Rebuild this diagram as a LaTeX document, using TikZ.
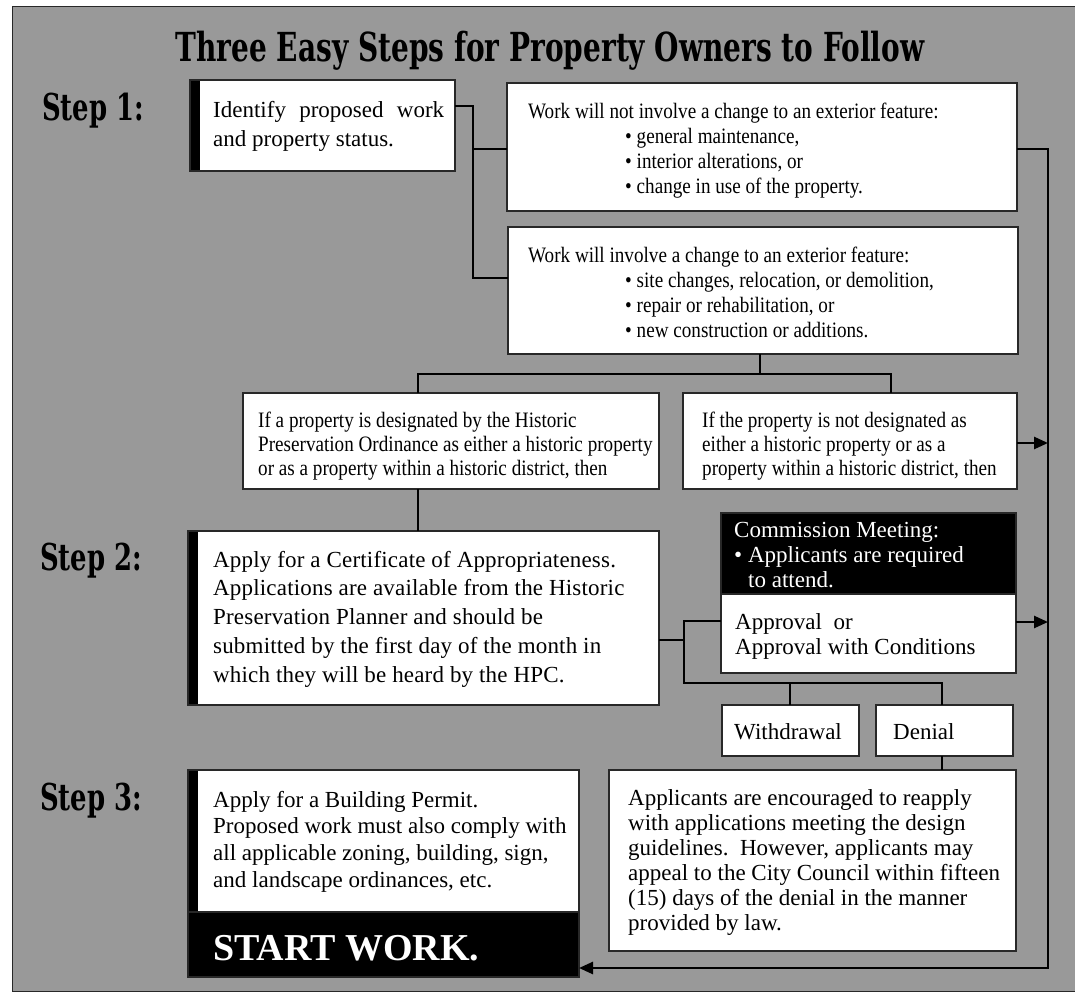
\documentclass[tikz,border=0pt]{standalone}
\usepackage{fontspec}
\setmainfont{Liberation Serif}
\newfontfamily\narrowfont{Liberation Serif}[FakeStretch=0.87]
\newfontfamily\headfont{DejaVu Serif}[FakeStretch=0.7]
\usetikzlibrary{arrows.meta,positioning}
\definecolor{panelgray}{RGB}{153,153,153}
\definecolor{boxline}{RGB}{40,40,40}
\newcommand{\bodyfont}{\fontsize{23}{29}\selectfont}
\newcommand{\smallfont}{\narrowfont\fontsize{22}{25}\selectfont}

\begin{document}
\begin{tikzpicture}[x=1pt,y=-1pt]
	\tikzstyle{box}=[draw=boxline,line width=1.2pt,fill=white,anchor=north west,inner sep=0pt,outer sep=0pt]
	\tikzstyle{stepbox}=[box,path picture={\fill[black] (path picture bounding box.north west) rectangle ([xshift=10pt]path picture bounding box.south west);}]
	\tikzstyle{txt}=[anchor=north west,inner sep=0pt,align=left]
	\tikzstyle{link}=[line width=2.6pt]
	\tikzstyle{arr}=[line width=2.6pt,-{Triangle[length=14pt,width=12pt]}]
	\tikzstyle{steplabel}=[anchor=base west,inner sep=0pt,font={\headfont\bfseries\fontsize{37}{40}\selectfont}]

	\useasboundingbox (0,0) rectangle (1075,998);
	\fill[white] (0,0) rectangle (1075,998);
	\draw[draw=boxline,line width=1pt,fill=panelgray] (12,7) rectangle (1090,991);

	\node[anchor=base,inner sep=0pt,font={\headfont\bfseries\fontsize{40}{44}\selectfont}] (title) at (550,62) {Three Easy Steps for Property Owners to Follow};
	\node[steplabel] (step1) at (42,120) {Step 1:};
	\node[steplabel] (step2) at (40,570) {Step 2:};
	\node[steplabel] (step3) at (40,810) {Step 3:};

	\begin{scope}
	\node[stepbox,minimum width=265pt,minimum height=91pt] (s1) at (190,80) {};
	\node[box,minimum width=510pt,minimum height=128pt] (wno) at (507,83) {};
	\node[box,minimum width=510pt,minimum height=127pt] (wyes) at (508,227) {};
	\node[box,minimum width=416pt,minimum height=96pt] (hist) at (243,393) {};
	\node[box,minimum width=334pt,minimum height=96pt] (nohist) at (683,393) {};
	\node[stepbox,minimum width=471pt,minimum height=174pt] (s2) at (188,531) {};
	\node[box,fill=black,minimum width=295pt,minimum height=81pt] (comm) at (721,513) {};
	\node[box,minimum width=295pt,minimum height=79pt] (appr) at (721,594) {};
	\node[box,minimum width=137pt,minimum height=51pt] (withd) at (722,705) {};
	\node[box,minimum width=137pt,minimum height=51pt] (denial) at (876,705) {};
	\node[stepbox,minimum width=391pt,minimum height=142pt] (s3) at (188,770) {};
	\node[box,fill=black,minimum width=391pt,minimum height=65pt] (startw) at (188,912) {};
	\node[box,minimum width=407pt,minimum height=181pt] (appl) at (609,770) {};
	\end{scope}

	\node[txt,text width=231pt,align=justify,font=\bodyfont] (s1-t) at ([shift={(23,16.7)}]s1.north west) {\strut Identify proposed work and property status.};
	\node[txt,font=\smallfont] (wno-t) at ([shift={(21,17.5)}]wno.north west) {\strut Work will not involve a change to an exterior feature:\\
		\hspace*{97pt}• general maintenance,\\
		\hspace*{97pt}• interior alterations, or\\
		\hspace*{97pt}• change in use of the property.};
	\node[txt,font=\smallfont] (wyes-t) at ([shift={(20,17.5)}]wyes.north west) {\strut Work will involve a change to an exterior feature:\\
		\hspace*{97pt}• site changes, relocation, or demolition,\\
		\hspace*{97pt}• repair or rehabilitation, or\\
		\hspace*{97pt}• new construction or additions.};
	\node[txt,font={\narrowfont\fontsize{22}{24}\selectfont}] (hist-t) at ([shift={(15,17)}]hist.north west) {\strut If a property is designated by the Historic\\
		Preservation Ordinance as either a historic property\\
		or as a property within a historic district, then};
	\node[txt,font={\narrowfont\fontsize{22}{24}\selectfont}] (nohist-t) at ([shift={(19,17)}]nohist.north west) {\strut If the property is not designated as\\
		either a historic property or as a\\
		property within a historic district, then};
	\node[txt,font={\addfontfeature{LetterSpace=0.8}\fontsize{23}{28.7}\selectfont}] (s2-t) at ([shift={(25,15.9)}]s2.north west) {\strut Apply for a Certificate of Appropriateness.\\
		Applications are available from the Historic\\
		Preservation Planner and should be\\
		submitted by the first day of the month in\\
		which they will be heard by the HPC.};
	\node[txt,text=white,font={\fontsize{23}{25}\selectfont}] (comm-t) at ([shift={(13,6.5)}]comm.north west) {\strut Commission Meeting:\\
		• Applicants are required\\
		\hspace*{14pt}to attend.};
	\node[txt,font={\fontsize{23}{25}\selectfont}] (appr-t) at ([shift={(14,17.5)}]appr.north west) {\strut Approval\ \ or\\
		Approval with Conditions};
	\node[anchor=base west,inner sep=0pt,font=\bodyfont] (withd-t) at ([shift={(12,34)}]withd.north west) {Withdrawal};
	\node[anchor=base west,inner sep=0pt,font=\bodyfont] (denial-t) at ([shift={(17,34)}]denial.north west) {Denial};
	\node[txt,font={\fontsize{23}{26.7}\selectfont}] (s3-t) at ([shift={(25,18.3)}]s3.north west) {\strut Apply for a Building Permit.\\
		Proposed work must also comply with\\
		all applicable zoning, building, sign,\\
		and landscape ordinances, etc.};
	\node[anchor=base west,inner sep=0pt,text=white,font={\bfseries\fontsize{38}{40}\selectfont}] (startw-t) at ([shift={(25,48)}]startw.north west) {START WORK.};
	\node[txt,font={\fontsize{23}{25}\selectfont}] (appl-t) at ([shift={(19,17.5)}]appl.north west) {\strut Applicants are encouraged to reapply\\
		with applications meeting the design\\
		guidelines.\ \ However, applicants may\\
		appeal to the City Council within fifteen\\
		(15) days of the denial in the manner\\
		provided by law.};

	\coordinate (j1) at (473,106);
	\coordinate (j2) at (473,149);
	\coordinate (j3) at (473,278);
	\coordinate (r1) at (1048,149);
	\coordinate (r2) at (1048,968);
	\coordinate (hl) at (418,374);
	\coordinate (hm) at (760,374);
	\coordinate (hr) at (891,374);
	\coordinate (v0) at (684,640);
	\coordinate (v1) at (684,621);
	\coordinate (v2) at (684,683);
	\coordinate (v3) at (942,683);
	\coordinate (vw) at (790,683);
	\coordinate (a1) at (1048,443);
	\coordinate (a2) at (1048,622);

	\draw[link] (j1 -| s1.east) -- (j1) -- (j3) -- (j3 -| wyes.west);
	\draw[link] (j2) -- (j2 -| wno.west);
	\draw[arr] (r1 -| wno.east) -- (r1) -- (r2) -- (r2 -| startw.east);
	\draw[link] (hm |- wyes.south) -- (hm);
	\draw[link] (hl |- hist.north) -- (hl) -- (hr) -- (hr |- nohist.north);
	\draw[link] (hl |- hist.south) -- (hl |- s2.north);
	\draw[arr] (a1 -| nohist.east) -- (a1);
	\draw[link] (v0 -| s2.east) -- (v0);
	\draw[link] (v1 -| appr.west) -- (v1) -- (v2) -- (v3) -- (v3 |- denial.north);
	\draw[link] (vw) -- (vw |- withd.north);
	\draw[arr] (a2 -| appr.east) -- (a2);
	\draw[link] (v3 |- denial.south) -- (v3 |- appl.north);
\end{tikzpicture}
\end{document}
